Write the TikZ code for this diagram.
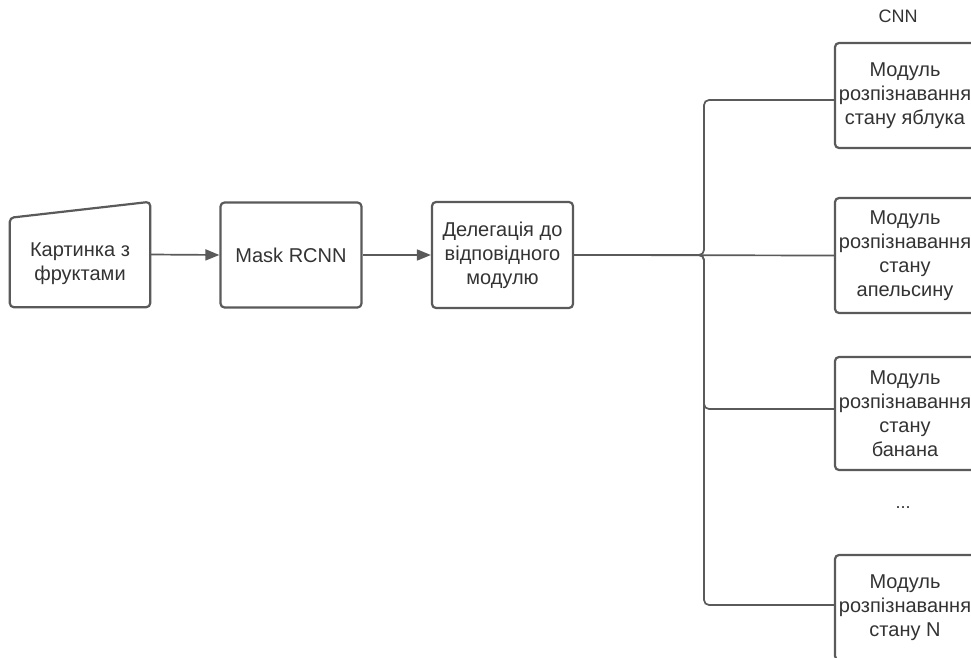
\documentclass[tikz,border=0pt]{standalone}
\usepackage{fontspec}
\setmainfont{Liberation Sans}
\usetikzlibrary{arrows.meta}
\definecolor{edge}{HTML}{5A5A5A}
\definecolor{ink}{HTML}{333333}
\begin{document}
\begin{tikzpicture}[x=1pt,y=-1pt,
  box/.style={draw=edge,line width=2.2pt,rounded corners=4pt,fill=white,
    minimum width=141pt,minimum height=105pt,inner sep=0pt,align=center,
    text=ink,font=\fontsize{20}{24}\selectfont},
  shapeonly/.style={minimum width=140pt,minimum height=105pt,inner sep=0pt},
  txt/.style={align=center,text=ink,font=\fontsize{20}{24}\selectfont,inner sep=0pt},
  link/.style={draw=edge,line width=1.7pt},
  arrowlink/.style={link,-{Triangle[length=14pt,width=11pt]}},
  branch/.style={link,rounded corners=5pt}]
\useasboundingbox (0,0) rectangle (971,658);
\clip (0,0) rectangle (971,658);
\fill[white] (0,0) rectangle (971,658);

% input picture: manual-input shape with a slanted top
\node[shapeonly] (img) at (80,254.5) {};
\draw[draw=edge,line width=2.2pt,rounded corners=4pt,fill=white]
  ([yshift=-16pt]img.north west) -- (img.north east) -- (img.south east)
  -- (img.south west) -- cycle;
\node[txt] (imgtext) at (80,263.5) {Картинка з\\фруктами};

\node[box] (mask) at (291,255) {Mask RCNN};
\node[box,minimum height=106pt] (deleg) at (502.5,255) {Делегація до\\відповідного\\модулю};

% recognition modules
\node[box,minimum width=140pt,minimum height=105pt] (apple) at (905,95.5) {Модуль\\розпізнавання\\стану яблука};
\node[box,minimum width=140pt,minimum height=115pt] (orange) at (905,255.5) {Модуль\\розпізнавання\\стану\\апельсину};
\node[box,minimum width=140pt,minimum height=113pt] (banana) at (905,413.5) {Модуль\\розпізнавання\\стану\\банана};
\node[box,minimum width=140pt,minimum height=105pt] (modn) at (905,607.5) {Модуль\\розпізнавання\\стану N};

\node[txt,font=\fontsize{18}{21}\selectfont] (cnn) at (898,16) {CNN};
\node[txt,font=\fontsize{18}{21}\selectfont] (dots) at (903,508) {...};

% connectors
\draw[arrowlink] (img.east) -- (mask.west);
\draw[arrowlink] (mask.east) -- (deleg.west);
\coordinate (fork) at (704,255);
\draw[branch] (deleg.east) -- (fork) |- ([yshift=-4.5pt]apple.west);
\draw[link] (deleg.east) -- (orange.west);
\draw[branch] (deleg.east) -- (fork) |- ([yshift=4.5pt]banana.west);
\draw[branch] (deleg.east) -- (fork) |- ([yshift=2.5pt]modn.west);
\end{tikzpicture}
\end{document}
